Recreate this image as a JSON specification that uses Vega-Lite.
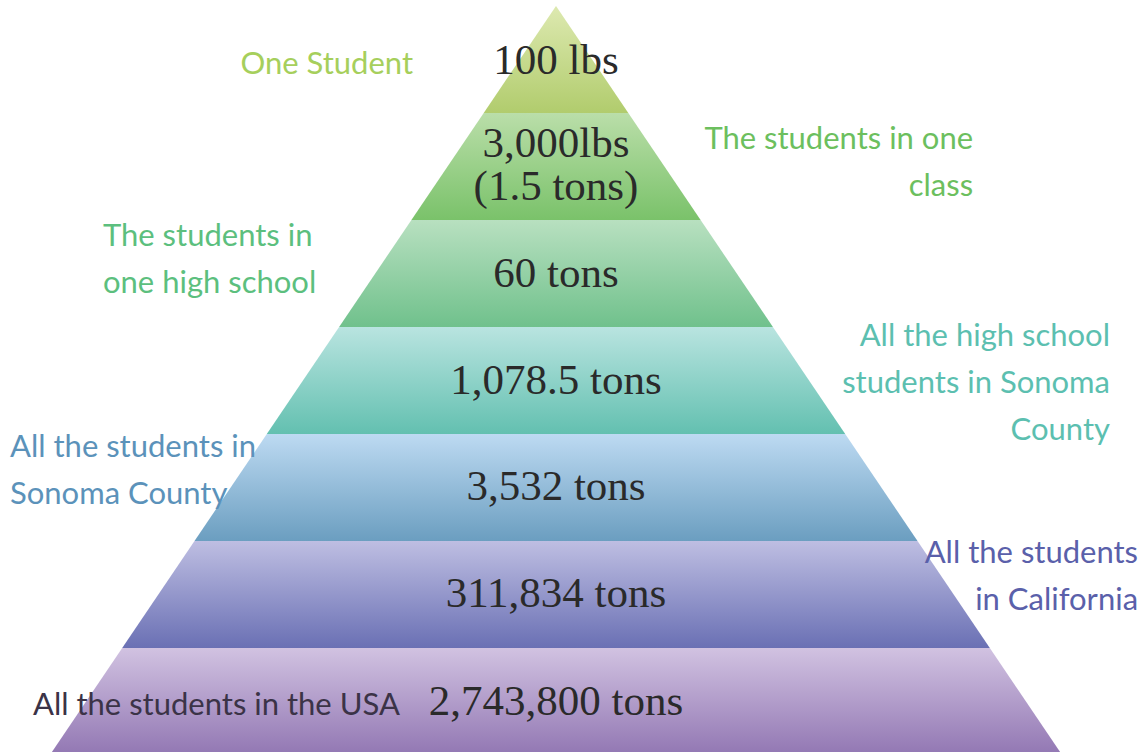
{
  "$schema": "https://vega.github.io/schema/vega-lite/v6.json",
  "width": 1146,
  "height": 752,
  "padding": 0,
  "autosize": {"type": "none"},
  "background": "white",
  "config": {"view": {"stroke": null}},
  "datasets": {
    "bands": [
      {"band": 1, "y": 0, "xl": 0, "xr": 0}, {"band": 1, "y": 1, "xl": -1, "xr": 1},
      {"band": 2, "y": 1, "xl": -1, "xr": 1}, {"band": 2, "y": 2, "xl": -2, "xr": 2},
      {"band": 3, "y": 2, "xl": -2, "xr": 2}, {"band": 3, "y": 3, "xl": -3, "xr": 3},
      {"band": 4, "y": 3, "xl": -3, "xr": 3}, {"band": 4, "y": 4, "xl": -4, "xr": 4},
      {"band": 5, "y": 4, "xl": -4, "xr": 4}, {"band": 5, "y": 5, "xl": -5, "xr": 5},
      {"band": 6, "y": 5, "xl": -5, "xr": 5}, {"band": 6, "y": 6, "xl": -6, "xr": 6},
      {"band": 7, "y": 6, "xl": -6, "xr": 6}, {"band": 7, "y": 7, "xl": -7, "xr": 7}
    ],
    "values": [
      {"text": "100 lbs", "x": 0, "y": 0.636},
      {"text": "3,000lbs\n(1.5 tons)", "x": 0, "y": 1.411},
      {"text": "60 tons", "x": 0, "y": 2.626},
      {"text": "1,078.5 tons", "x": 0, "y": 3.626},
      {"text": "3,532 tons", "x": 0, "y": 4.617},
      {"text": "311,834 tons", "x": 0, "y": 5.617},
      {"text": "2,743,800 tons", "x": 0, "y": 6.626}
    ],
    "labels": [
      {"text": "One Student", "side": "right", "group": "g1", "x": -1.978, "y": 0.636},
      {"text": "The students in one\nclass", "side": "right", "group": "g2", "x": 5.768, "y": 1.336},
      {"text": "The students in\none high school", "side": "left", "group": "g3", "x": -6.266, "y": 2.243},
      {"text": "All the high school\nstudents in Sonoma\nCounty", "side": "right", "group": "g4", "x": 7.662, "y": 3.178},
      {"text": "All the students in\nSonoma County", "side": "left", "group": "g5", "x": -7.552, "y": 4.215},
      {"text": "All the students\nin California", "side": "right", "group": "g6", "x": 8.05, "y": 5.206},
      {"text": "All the students in the USA", "side": "left", "group": "g7", "x": -7.234, "y": 6.626}
    ]
  },
  "layer": [
    {
      "data": {"name": "bands"},
      "transform": [{"filter": "datum.band == 1"}],
      "mark": {"type": "area", "orient": "horizontal", "opacity": 1, "fillOpacity": 1,
        "fill": {"gradient": "linear", "x1": 0, "y1": 0, "x2": 0, "y2": 1, "stops": [{"offset": 0, "color": "#dde9b0"}, {"offset": 1, "color": "#b1cc6d"}]}},
      "encoding": {
        "y": {"field": "y", "type": "quantitative", "scale": {"domain": [-0.05607, 6.972], "reverse": true, "zero": false, "nice": false}, "axis": null},
        "x": {"field": "xl", "type": "quantitative", "scale": {"domain": [-7.69, 8.16], "zero": false, "nice": false}, "axis": null},
        "x2": {"field": "xr"}
      }
    },
    {
      "data": {"name": "bands"},
      "transform": [{"filter": "datum.band == 2"}],
      "mark": {"type": "area", "orient": "horizontal", "opacity": 1, "fillOpacity": 1,
        "fill": {"gradient": "linear", "x1": 0, "y1": 0, "x2": 0, "y2": 1, "stops": [{"offset": 0, "color": "#badea9"}, {"offset": 1, "color": "#7ac26a"}]}},
      "encoding": {
        "y": {"field": "y", "type": "quantitative", "scale": {"domain": [-0.05607, 6.972], "reverse": true, "zero": false, "nice": false}, "axis": null},
        "x": {"field": "xl", "type": "quantitative", "scale": {"domain": [-7.69, 8.16], "zero": false, "nice": false}, "axis": null},
        "x2": {"field": "xr"}
      }
    },
    {
      "data": {"name": "bands"},
      "transform": [{"filter": "datum.band == 3"}],
      "mark": {"type": "area", "orient": "horizontal", "opacity": 1, "fillOpacity": 1,
        "fill": {"gradient": "linear", "x1": 0, "y1": 0, "x2": 0, "y2": 1, "stops": [{"offset": 0, "color": "#b8e0c0"}, {"offset": 1, "color": "#70c18c"}]}},
      "encoding": {
        "y": {"field": "y", "type": "quantitative", "scale": {"domain": [-0.05607, 6.972], "reverse": true, "zero": false, "nice": false}, "axis": null},
        "x": {"field": "xl", "type": "quantitative", "scale": {"domain": [-7.69, 8.16], "zero": false, "nice": false}, "axis": null},
        "x2": {"field": "xr"}
      }
    },
    {
      "data": {"name": "bands"},
      "transform": [{"filter": "datum.band == 4"}],
      "mark": {"type": "area", "orient": "horizontal", "opacity": 1, "fillOpacity": 1,
        "fill": {"gradient": "linear", "x1": 0, "y1": 0, "x2": 0, "y2": 1, "stops": [{"offset": 0, "color": "#b9e4e0"}, {"offset": 1, "color": "#63c0b0"}]}},
      "encoding": {
        "y": {"field": "y", "type": "quantitative", "scale": {"domain": [-0.05607, 6.972], "reverse": true, "zero": false, "nice": false}, "axis": null},
        "x": {"field": "xl", "type": "quantitative", "scale": {"domain": [-7.69, 8.16], "zero": false, "nice": false}, "axis": null},
        "x2": {"field": "xr"}
      }
    },
    {
      "data": {"name": "bands"},
      "transform": [{"filter": "datum.band == 5"}],
      "mark": {"type": "area", "orient": "horizontal", "opacity": 1, "fillOpacity": 1,
        "fill": {"gradient": "linear", "x1": 0, "y1": 0, "x2": 0, "y2": 1, "stops": [{"offset": 0, "color": "#bddaf2"}, {"offset": 1, "color": "#6b9ec0"}]}},
      "encoding": {
        "y": {"field": "y", "type": "quantitative", "scale": {"domain": [-0.05607, 6.972], "reverse": true, "zero": false, "nice": false}, "axis": null},
        "x": {"field": "xl", "type": "quantitative", "scale": {"domain": [-7.69, 8.16], "zero": false, "nice": false}, "axis": null},
        "x2": {"field": "xr"}
      }
    },
    {
      "data": {"name": "bands"},
      "transform": [{"filter": "datum.band == 6"}],
      "mark": {"type": "area", "orient": "horizontal", "opacity": 1, "fillOpacity": 1,
        "fill": {"gradient": "linear", "x1": 0, "y1": 0, "x2": 0, "y2": 1, "stops": [{"offset": 0, "color": "#bebee2"}, {"offset": 1, "color": "#6a70b4"}]}},
      "encoding": {
        "y": {"field": "y", "type": "quantitative", "scale": {"domain": [-0.05607, 6.972], "reverse": true, "zero": false, "nice": false}, "axis": null},
        "x": {"field": "xl", "type": "quantitative", "scale": {"domain": [-7.69, 8.16], "zero": false, "nice": false}, "axis": null},
        "x2": {"field": "xr"}
      }
    },
    {
      "data": {"name": "bands"},
      "transform": [{"filter": "datum.band == 7"}],
      "mark": {"type": "area", "orient": "horizontal", "opacity": 1, "fillOpacity": 1,
        "fill": {"gradient": "linear", "x1": 0, "y1": 0, "x2": 0, "y2": 1, "stops": [{"offset": 0, "color": "#d1c2e1"}, {"offset": 1, "color": "#9277b3"}]}},
      "encoding": {
        "y": {"field": "y", "type": "quantitative", "scale": {"domain": [-0.05607, 6.972], "reverse": true, "zero": false, "nice": false}, "axis": null},
        "x": {"field": "xl", "type": "quantitative", "scale": {"domain": [-7.69, 8.16], "zero": false, "nice": false}, "axis": null},
        "x2": {"field": "xr"}
      }
    },
    {
      "data": {"name": "values"},
      "mark": {"type": "text", "font": "Liberation Serif", "fontSize": 43, "color": "#2a2a2a", "align": "center", "baseline": "alphabetic", "lineBreak": "\n", "lineHeight": 43},
      "encoding": {
        "y": {"field": "y", "type": "quantitative"},
        "x": {"field": "x", "type": "quantitative"},
        "text": {"field": "text", "type": "nominal"}
      }
    },
    {
      "data": {"name": "labels"},
      "transform": [{"filter": "datum.side == 'left'"}],
      "mark": {"type": "text", "font": "Lato", "fontSize": 31, "align": "left", "baseline": "alphabetic", "lineBreak": "\n", "lineHeight": 47},
      "encoding": {
        "y": {"field": "y", "type": "quantitative"},
        "x": {"field": "x", "type": "quantitative"},
        "text": {"field": "text", "type": "nominal"},
        "color": {"field": "group", "type": "nominal", "legend": null,
          "scale": {"domain": ["g1", "g2", "g3", "g4", "g5", "g6", "g7"], "range": ["#a6cf5c", "#6cbf5e", "#5cbf7e", "#5cbfb0", "#5b92ba", "#5a60aa", "#3b3347"]}}
      }
    },
    {
      "data": {"name": "labels"},
      "transform": [{"filter": "datum.side == 'right'"}],
      "mark": {"type": "text", "font": "Lato", "fontSize": 31, "align": "right", "baseline": "alphabetic", "lineBreak": "\n", "lineHeight": 47},
      "encoding": {
        "y": {"field": "y", "type": "quantitative"},
        "x": {"field": "x", "type": "quantitative"},
        "text": {"field": "text", "type": "nominal"},
        "color": {"field": "group", "type": "nominal", "legend": null,
          "scale": {"domain": ["g1", "g2", "g3", "g4", "g5", "g6", "g7"], "range": ["#a6cf5c", "#6cbf5e", "#5cbf7e", "#5cbfb0", "#5b92ba", "#5a60aa", "#3b3347"]}}
      }
    }
  ]
}
